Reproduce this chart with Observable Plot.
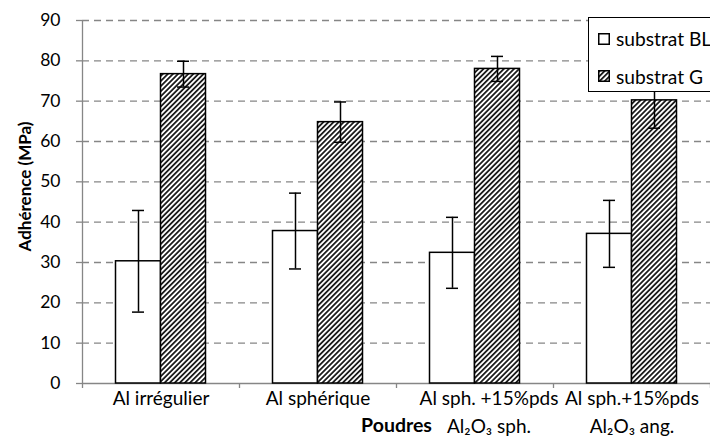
<!DOCTYPE html>
<html><head><meta charset="utf-8">
<script src="https://cdn.jsdelivr.net/npm/d3@7"></script>
<script src="https://cdn.jsdelivr.net/npm/@observablehq/plot@0.6"></script>
<style>
html,body{margin:0;padding:0;background:#fff;overflow:hidden}
#wrap{position:relative;width:710px;height:439px;overflow:hidden;font-family:Lato,"Open Sans",sans-serif}
#legend{position:absolute;left:588px;top:17px;width:150px;height:75px;border:1.3px solid #000;background:#fff;box-sizing:border-box}
.li{position:absolute;left:9px;height:16px;display:flex;align-items:center;font-size:19.2px;color:#000;white-space:nowrap}
.li svg{margin-right:6px;flex:none}
</style></head><body>
<svg width="0" height="0" style="position:absolute"><defs>
<pattern id="hatch" patternUnits="userSpaceOnUse" width="3.6" height="3.6" patternTransform="rotate(45)">
<rect width="3.6" height="3.6" fill="#fff"/>
<line x1="1.8" y1="-1" x2="1.8" y2="5" stroke="#000" stroke-width="1.6"/>
</pattern></defs></svg>
<div id="wrap"><div id="chart"></div><div id="legend"></div></div>
<script>
const categories = ["Al irrégulier", "Al sphérique", "Al sph. +15%pds\nAl₂O₃ sph.", "Al sph.+15%pds\nAl₂O₃ ang."];
const series = ["substrat BL", "substrat G"];
const blValues = [30.3, 37.8, 32.4, 37.1];
const blErrors = [12.6, 9.4, 8.8, 8.3];
const gValues = [76.7, 64.8, 78.0, 70.2];
const gErrors = [3.2, 5.0, 3.1, 6.9];
const yTicks = [0, 10, 20, 30, 40, 50, 60, 70, 80, 90];
const yLabel = "Adhérence (MPa)";
const xLabel = "Poudres";

const gray = "#868686";
const bl = categories.map((c, i) => ({cat: c, value: blValues[i], err: blErrors[i]}));
const g = categories.map((c, i) => ({cat: c, value: gValues[i], err: gErrors[i]}));
const fills = ["#fff", "url(#hatch)"];
const catText = {tickSize: 0, tickPadding: 2, lineHeight: 1.47, label: null, fontSize: 19};

const plot = Plot.plot({
  width: 710, height: 439,
  marginLeft: 82, marginRight: 0, marginTop: 20, marginBottom: 56,
  style: {fontFamily: "Lato, 'Open Sans', sans-serif", fontSize: "18px", color: "#000", background: "#fff", overflow: "visible"},
  x: {type: "band", domain: categories, padding: 0, axis: null},
  y: {domain: [0, 90], axis: null},
  marks: [
    Plot.gridY(yTicks.slice(1), {stroke: gray, strokeOpacity: 1, strokeWidth: 1.3, strokeDasharray: "7,5"}),
    Plot.ruleY([0], {stroke: gray, strokeWidth: 1.3}),
    Plot.ruleX([categories[0]], {dx: -78.5, y1: 0, y2: 90, stroke: gray, strokeWidth: 1.3}),
    Plot.axisY(yTicks, {tickSize: 6, tickPadding: 16, stroke: gray, strokeWidth: 1.3, label: null, fontSize: 17.5}),
    Plot.axisX(categories, {tickSize: 5, fill: "none", stroke: gray, strokeWidth: 1.3, dx: -78.5, label: null}),
    Plot.axisX([categories[3]], {tickSize: 5, fill: "none", stroke: gray, strokeWidth: 1.3, dx: 78.5, label: null}),
    Plot.axisX([categories[0], categories[1], categories[3]], catText),
    Plot.axisX([categories[2]], {...catText, dx: 14}),
    Plot.text([yLabel], {frameAnchor: "left", textAnchor: "middle", rotate: -90, dx: -57, dy: -15.5, fontWeight: "bold", fontSize: 17}),
    Plot.text([xLabel], {frameAnchor: "bottom", textAnchor: "middle", lineAnchor: "top", dy: 35, fontWeight: "bold", fontSize: 19.5}),
    Plot.barY(bl, {x: "cat", y: "value", fill: fills[0], stroke: "#000", strokeWidth: 1.5, insetLeft: 33.5, insetRight: 78.5}),
    Plot.barY(g, {x: "cat", y: "value", fill: fills[1], stroke: "#000", strokeWidth: 1.5, insetLeft: 78.5, insetRight: 33.5}),
    Plot.ruleX(bl, {x: "cat", y1: d => d.value - d.err, y2: d => d.value + d.err, dx: -22.5, stroke: "#000", strokeWidth: 1.5}),
    Plot.tickY(bl, {x: "cat", y: d => d.value - d.err, dx: -22.5, insetLeft: 72.5, insetRight: 72.5, stroke: "#000", strokeWidth: 1.5}),
    Plot.tickY(bl, {x: "cat", y: d => d.value + d.err, dx: -22.5, insetLeft: 72.5, insetRight: 72.5, stroke: "#000", strokeWidth: 1.5}),
    Plot.ruleX(g, {x: "cat", y1: d => d.value - d.err, y2: d => d.value + d.err, dx: 22.5, stroke: "#000", strokeWidth: 1.5}),
    Plot.tickY(g, {x: "cat", y: d => d.value - d.err, dx: 22.5, insetLeft: 72.5, insetRight: 72.5, stroke: "#000", strokeWidth: 1.5}),
    Plot.tickY(g, {x: "cat", y: d => d.value + d.err, dx: 22.5, insetLeft: 72.5, insetRight: 72.5, stroke: "#000", strokeWidth: 1.5})
  ]
});
document.getElementById("chart").appendChild(plot);

const legend = document.getElementById("legend");
series.forEach((s, i) => {
  const row = document.createElement("div");
  row.className = "li";
  row.style.top = (i === 0 ? 12.5 : 50) + "px";
  row.innerHTML = `<svg width="12" height="12"><rect x="0.75" y="0.75" width="10.5" height="10.5" fill="${fills[i]}" stroke="#000" stroke-width="1.5"/></svg><span>${s}</span>`;
  legend.appendChild(row);
});
</script>
</body></html>
